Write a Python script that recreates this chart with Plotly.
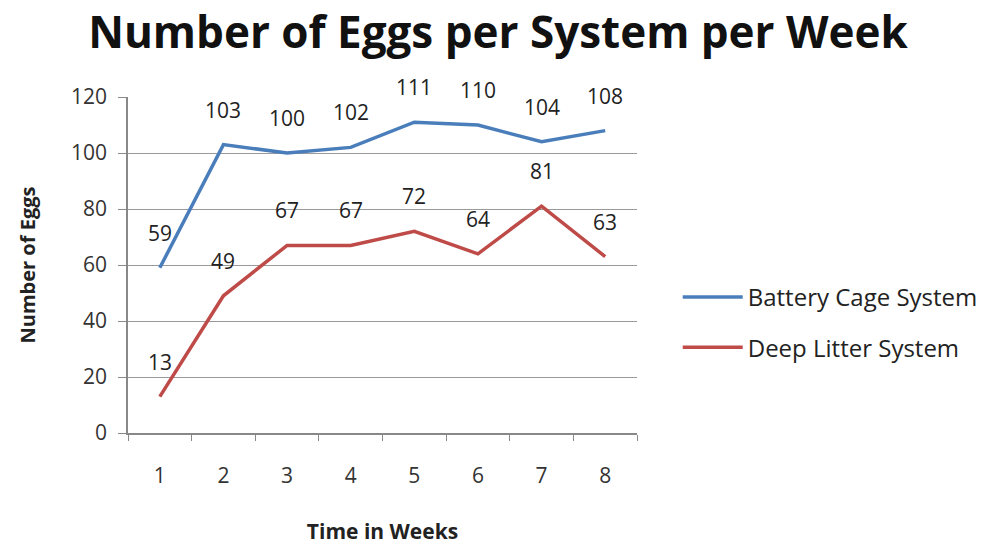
import plotly.graph_objects as go

weeks = ["1", "2", "3", "4", "5", "6", "7", "8"]
battery_cage = [59, 103, 100, 102, 111, 110, 104, 108]
deep_litter = [13, 49, 67, 67, 72, 64, 81, 63]

BLUE = "#4A7EBB"
RED = "#BE4B48"
FONT = "'Open Sans', Lato, sans-serif"

fig = go.Figure()
fig.add_trace(go.Scatter(x=weeks, y=battery_cage, mode="lines", name="Battery Cage System",
                         line=dict(color=BLUE, width=3.5), legendgroup="a"))
fig.add_trace(go.Scatter(x=weeks, y=deep_litter, mode="lines", name="Deep Litter System",
                         line=dict(color=RED, width=3.5), legendgroup="b"))

# value labels sitting above each point (category axis -> use position index)
annotations = []
for series in (battery_cage, deep_litter):
    for i, v in enumerate(series):
        annotations.append(dict(x=i, y=v, xref="x", yref="y", text=str(v), showarrow=False,
                                yshift=35, font=dict(family=FONT, size=21, color="#222")))

fig.update_layout(
    width=996, height=545,
    margin=dict(l=128, r=359, t=97, b=112),
    paper_bgcolor="white", plot_bgcolor="white",
    title=dict(text="<b>Number of Eggs per System per Week</b>", x=0.5, xanchor="center",
               y=0.94, yanchor="middle", font=dict(family=FONT, size=44, color="#111")),
    annotations=annotations,
    showlegend=True,
    legend=dict(x=1.08, y=0.329, xanchor="left", yanchor="middle",
                font=dict(family=FONT, size=24, color="#222"),
                tracegroupgap=16, itemwidth=60, bgcolor="rgba(0,0,0,0)"),
    xaxis=dict(type="category", range=[-0.5, 7.5], tickson="boundaries", automargin=False,
               ticks="outside", ticklen=6, tickcolor="#888", showline=True, linecolor="#888",
               linewidth=1.5, showgrid=False, ticklabelstandoff=23,
               tickfont=dict(family=FONT, size=21, color="#333"),
               title=dict(text="<b>Time in Weeks</b>", standoff=39,
                          font=dict(family=FONT, size=21, color="#222"))),
    yaxis=dict(range=[0, 120], dtick=20, ticks="outside", ticklen=8, tickcolor="#888",
               automargin=False,
               showline=True, linecolor="#888", linewidth=1.5, showgrid=True,
               gridcolor="#9a9a9a", gridwidth=1, zeroline=False, ticklabelstandoff=7,
               tickfont=dict(family=FONT, size=21, color="#333"),
               title=dict(text="<b>Number of Eggs</b>", standoff=30,
                          font=dict(family=FONT, size=20, color="#222"))),
)

fig.write_html("out.html")
